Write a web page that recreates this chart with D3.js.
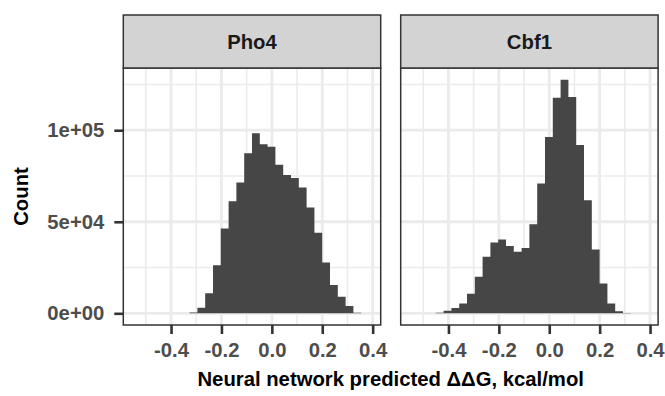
<!DOCTYPE html>
<html>
<head>
<meta charset="utf-8">
<script src="https://cdn.jsdelivr.net/npm/d3@7"></script>
<style>
  html, body { margin: 0; padding: 0; background: #ffffff; }
  svg { display: block; font-family: "Liberation Sans", Arial, Helvetica, sans-serif; }
</style>
</head>
<body>
<svg id="chart" width="665" height="396"></svg>
<script>
// Histogram bin edges (shared by both facets), in kcal/mol
const binEdges = [
  -0.5430, -0.5121, -0.4811, -0.4502, -0.4192, -0.3883, -0.3573, -0.3264,
  -0.2954, -0.2645, -0.2335, -0.2026, -0.1716, -0.1407, -0.1097, -0.0788,
  -0.0478, -0.0169, 0.0141, 0.0451, 0.0760, 0.1070, 0.1379, 0.1689,
  0.1998, 0.2308, 0.2617, 0.2927, 0.3236, 0.3546, 0.3855
];

// Counts per bin for each transcription factor
const pho4Counts = [
  0, 0, 0, 0, 0, 0, 100, 500, 3100, 10900,
  26300, 46300, 61200, 71400, 87400, 98300, 92300, 91000, 81200, 75600,
  73900, 68700, 57800, 44000, 27800, 15400, 9100, 4000, 300, 0
];
const cbf1Counts = [
  0, 0, 100, 300, 1400, 2900, 5300, 10700, 20000, 30900,
  38700, 40300, 36700, 33600, 35700, 48700, 70900, 96300, 117700, 127600,
  118100, 91900, 61800, 34900, 16300, 5400, 1100, 200, 0, 0
];

const facetNames = ["Pho4", "Cbf1"];
const facetCounts = [pho4Counts, cbf1Counts];

const xTicks = [-0.4, -0.2, 0.0, 0.2, 0.4];
const xTickLabels = ["-0.4", "-0.2", "0.0", "0.2", "0.4"];
const xMinor = [-0.5, -0.3, -0.1, 0.1, 0.3];
const yTicks = [0, 50000, 100000];
const yTickLabels = ["0e+00", "5e+04", "1e+05"];
const yMinor = [25000, 75000, 125000];

const xTitle = "Neural network predicted \u0394\u0394G, kcal/mol";
const yTitle = "Count";

// ---- layout ----
const svg = d3.select("#chart");
const panelLefts = [123.3, 400.7];
const panelWidth = 257.4;
const stripTop = 15, stripBottom = 68, panelBottom = 325;
const fontSize = 20.3;

// scales with 5% expansion, like ggplot's default continuous scales
const xLo = d3.min(binEdges), xHi = d3.max(binEdges);
const xPad = (xHi - xLo) * 0.05;
const yMax = d3.max(facetCounts.flat());
const yPad = yMax * 0.05;

const y = d3.scaleLinear()
  .domain([-yPad, yMax + yPad])
  .range([panelBottom, stripBottom]);

const gridColor = "#ebebeb";
const borderColor = "#333333";

facetNames.forEach((name, i) => {
  const left = panelLefts[i];
  const x = d3.scaleLinear()
    .domain([xLo - xPad, xHi + xPad])
    .range([left, left + panelWidth]);

  const g = svg.append("g");

  // panel background
  g.append("rect")
    .attr("x", left).attr("y", stripBottom)
    .attr("width", panelWidth).attr("height", panelBottom - stripBottom)
    .attr("fill", "#ffffff");

  // minor grid
  g.selectAll(".vminor").data(xMinor).join("line")
    .attr("x1", d => x(d)).attr("x2", d => x(d))
    .attr("y1", stripBottom).attr("y2", panelBottom)
    .attr("stroke", gridColor).attr("stroke-width", 1.6);
  g.selectAll(".hminor").data(yMinor).join("line")
    .attr("x1", left).attr("x2", left + panelWidth)
    .attr("y1", d => y(d)).attr("y2", d => y(d))
    .attr("stroke", gridColor).attr("stroke-width", 1.6);

  // major grid
  g.selectAll(".vmajor").data(xTicks).join("line")
    .attr("x1", d => x(d)).attr("x2", d => x(d))
    .attr("y1", stripBottom).attr("y2", panelBottom)
    .attr("stroke", gridColor).attr("stroke-width", 2.8);
  g.selectAll(".hmajor").data(yTicks).join("line")
    .attr("x1", left).attr("x2", left + panelWidth)
    .attr("y1", d => y(d)).attr("y2", d => y(d))
    .attr("stroke", gridColor).attr("stroke-width", 2.8);

  // histogram bars drawn as one stepped outline so neighbours join without seams
  const bins = facetCounts[i].map((c, k) => ({ x0: binEdges[k], x1: binEdges[k + 1], count: c }));
  const area = d3.area()
    .curve(d3.curveStepAfter)
    .x(d => x(d.x))
    .y0(y(0))
    .y1(d => y(d.count));
  const steps = bins.map(b => ({ x: b.x0, count: b.count }));
  steps.push({ x: bins[bins.length - 1].x1, count: bins[bins.length - 1].count });
  g.append("path")
    .datum(steps)
    .attr("d", area)
    .attr("fill", "#464646");

  // panel border
  g.append("rect")
    .attr("x", left).attr("y", stripBottom)
    .attr("width", panelWidth).attr("height", panelBottom - stripBottom)
    .attr("fill", "none").attr("stroke", borderColor).attr("stroke-width", 1.5);

  // strip
  g.append("rect")
    .attr("x", left).attr("y", stripTop)
    .attr("width", panelWidth).attr("height", stripBottom - stripTop)
    .attr("fill", "#d3d3d3").attr("stroke", borderColor).attr("stroke-width", 1.5);
  g.append("text")
    .attr("x", left + panelWidth / 2).attr("y", 49.3)
    .attr("text-anchor", "middle")
    .attr("font-size", fontSize).attr("font-weight", "bold")
    .attr("fill", "#1a1a1a")
    .text(name);

  // bottom axis
  const xAxis = d3.axisBottom(x)
    .tickValues(xTicks)
    .tickFormat((d, k) => xTickLabels[k])
    .tickSize(9).tickPadding(8.5);
  const ax = svg.append("g")
    .attr("transform", `translate(0,${panelBottom})`)
    .call(xAxis);
  ax.select(".domain").remove();
  ax.selectAll(".tick line").attr("stroke", borderColor).attr("stroke-width", 2.6);
  ax.selectAll(".tick text")
    .attr("font-size", fontSize).attr("font-weight", "bold")
    .attr("font-family", null)
    .attr("fill", "#4d4d4d");

  // left axis on the first facet only
  if (i === 0) {
    const yAxis = d3.axisLeft(y)
      .tickValues(yTicks)
      .tickFormat((d, k) => yTickLabels[k])
      .tickSize(9).tickPadding(10);
    const ay = svg.append("g")
      .attr("transform", `translate(${left},0)`)
      .call(yAxis);
    ay.select(".domain").remove();
    ay.selectAll(".tick line").attr("stroke", borderColor).attr("stroke-width", 2.6);
    ay.selectAll(".tick text")
      .attr("font-size", fontSize).attr("font-weight", "bold")
      .attr("font-family", null)
      .attr("fill", "#4d4d4d");
  }
});

// axis titles
svg.append("text")
  .attr("x", (panelLefts[0] + panelLefts[1] + panelWidth) / 2)
  .attr("y", 385.5)
  .attr("text-anchor", "middle")
  .attr("font-size", fontSize).attr("font-weight", "bold")
  .attr("fill", "#000000")
  .text(xTitle);

svg.append("text")
  .attr("transform", `translate(28.3,${(stripBottom + panelBottom) / 2}) rotate(-90)`)
  .attr("text-anchor", "middle")
  .attr("font-size", fontSize).attr("font-weight", "bold")
  .attr("fill", "#000000")
  .text(yTitle);
</script>
</body>
</html>
